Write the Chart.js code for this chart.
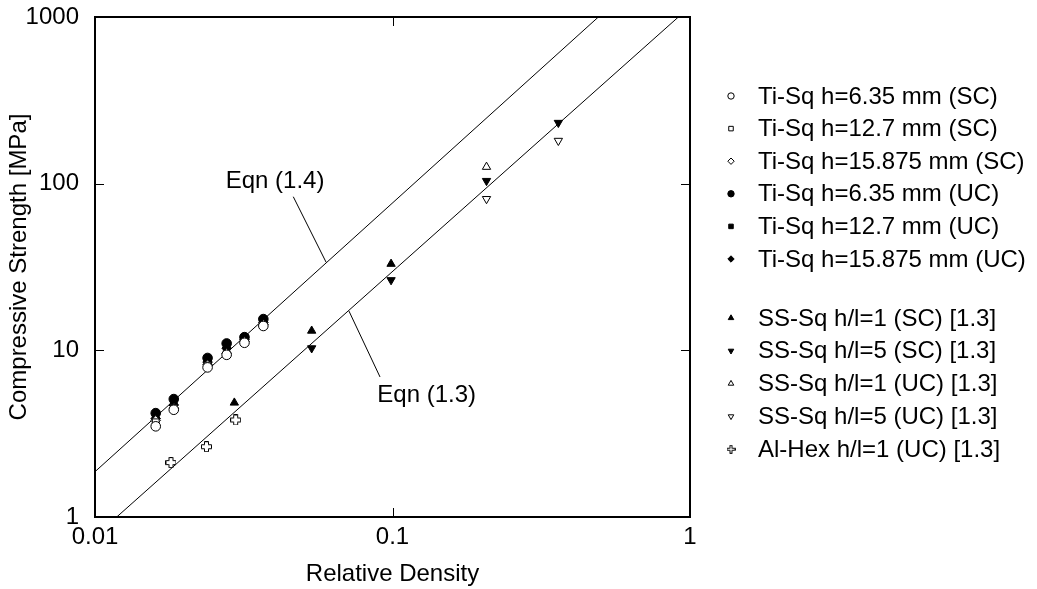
<!DOCTYPE html>
<html>
<head>
<meta charset="utf-8">
<script src="https://cdn.jsdelivr.net/npm/chart.js@4/dist/chart.umd.min.js"></script>
<style>
  html, body { margin: 0; padding: 0; background: #fff; }
  #wrap { width: 1037px; height: 589px; }
</style>
</head>
<body>
<div id="wrap"><canvas id="strength" width="1037" height="589"></canvas></div>
<script>
// Ti square honeycombs: shared relative densities, one array per cell height / constraint
const tiX = [0.016, 0.0184, 0.0239, 0.0277, 0.0318, 0.0368];
const tiSC635 = [3.5, 4.4, 7.9, 9.4, 11.1, 14.0];
const tiSC127 = [3.7, 4.5, 8.1, 9.5, 11.2, 14.1];
const tiSC15875 = [3.8, 4.5, 8.2, 9.6, 11.3, 14.3];
const tiUC635 = [4.2, 5.1, 9.0, 11.0, 12.0, 15.4];
const tiUC127 = [4.0, 4.8, 8.7, 10.6, 11.8, 15.0];
const tiUC15875 = [3.9, 4.7, 8.5, 10.3, 11.6, 14.7];

// stainless steel square honeycombs and Al hex [1.3]
const ssSC1X = [0.0294, 0.0535, 0.0989];
const ssSC1Y = [4.85, 13.1, 33];
const ssSC5X = [0.0535, 0.0989, 0.207, 0.361];
const ssSC5Y = [10.3, 26.4, 104, 232];
const ssUC1X = [0.207];
const ssUC1Y = [126];
const ssUC5X = [0.207, 0.361];
const ssUC5Y = [81, 181];
const alX = [0.018, 0.0237, 0.0297];
const alY = [2.12, 2.64, 3.82];

// model lines, end points on the frame
const eqn14X = [0.01, 0.492];
const eqn14Y = [1.87, 1000];
const eqn13X = [0.01183, 0.914];
const eqn13Y = [1, 1000];

const xTicks = [0.01, 0.1, 1];
const yTicks = [1, 10, 100, 1000];

const FONT = "'Liberation Sans', Arial, Helvetica, sans-serif";
const FS = 24;

const pts = (xs, ys) => xs.map((x, i) => ({ x, y: ys[i] }));

// outlined plus marker
function makePlus(size) {
    const c = document.createElement('canvas');
    c.width = size; c.height = size;
    const g = c.getContext('2d');
    const a = Math.round(size * 0.3), b = size - a;
    g.translate(0.5, 0.5);
    g.beginPath();
    g.moveTo(a, 0); g.lineTo(b - 1, 0); g.lineTo(b - 1, a); g.lineTo(size - 1, a);
    g.lineTo(size - 1, b - 1); g.lineTo(b - 1, b - 1); g.lineTo(b - 1, size - 1);
    g.lineTo(a, size - 1); g.lineTo(a, b - 1); g.lineTo(0, b - 1); g.lineTo(0, a); g.lineTo(a, a);
    g.closePath();
    g.fillStyle = '#fff'; g.fill();
    g.strokeStyle = '#000'; g.lineWidth = 1; g.stroke();
    return c;
}
const plusBig = makePlus(11);
const plusSmall = makePlus(9);

function marker(label, data, style, filled, rotation = 0, group = 1) {
    return {
        label, data, group,
        pointStyle: style,
        rotation,
        pointRadius: 4.8,
        pointHoverRadius: 4.8,
        borderWidth: 1,
        pointBorderColor: '#000',
        pointBackgroundColor: filled ? '#000' : '#fff',
        showLine: false,
    };
}

function modelLine(label, data) {
    return {
        label, data, isModel: true,
        showLine: true,
        borderColor: '#000',
        borderWidth: 1,
        pointRadius: 0,
        pointHoverRadius: 0,
    };
}

const datasets = [
    marker('Ti-Sq h=6.35 mm (SC)', pts(tiX, tiSC635), 'circle', false),
    marker('Ti-Sq h=12.7 mm (SC)', pts(tiX, tiSC127), 'rect', false),
    marker('Ti-Sq h=15.875 mm (SC)', pts(tiX, tiSC15875), 'rectRot', false),
    marker('Ti-Sq h=6.35 mm (UC)', pts(tiX, tiUC635), 'circle', true),
    marker('Ti-Sq h=12.7 mm (UC)', pts(tiX, tiUC127), 'rect', true),
    marker('Ti-Sq h=15.875 mm (UC)', pts(tiX, tiUC15875), 'rectRot', true),
    marker('SS-Sq h/l=1 (SC) [1.3]', pts(ssSC1X, ssSC1Y), 'triangle', true, 0, 2),
    marker('SS-Sq h/l=5 (SC) [1.3]', pts(ssSC5X, ssSC5Y), 'triangle', true, 180, 2),
    marker('SS-Sq h/l=1 (UC) [1.3]', pts(ssUC1X, ssUC1Y), 'triangle', false, 0, 2),
    marker('SS-Sq h/l=5 (UC) [1.3]', pts(ssUC5X, ssUC5Y), 'triangle', false, 180, 2),
    marker('Al-Hex h/l=1 (UC) [1.3]', pts(alX, alY), plusBig, false, 0, 2),
    modelLine('Eqn (1.4)', pts(eqn14X, eqn14Y)),
    modelLine('Eqn (1.3)', pts(eqn13X, eqn13Y)),
];

// frame, inward ticks, equation labels and the side legend
const framePlugin = {
    id: 'frame',
    afterDatasetsDraw(chart) {
        const { ctx, chartArea: a, scales: { x, y } } = chart;
        ctx.save();
        ctx.strokeStyle = '#000';
        ctx.lineWidth = 2;
        ctx.strokeRect(a.left, a.top, a.right - a.left, a.bottom - a.top);
        ctx.lineWidth = 1;
        ctx.beginPath();
        const tl = 9;
        yTicks.slice(1, -1).forEach(v => {
            const py = Math.round(y.getPixelForValue(v)) + 0.5;
            ctx.moveTo(a.left, py); ctx.lineTo(a.left + tl, py);
            ctx.moveTo(a.right, py); ctx.lineTo(a.right - tl, py);
        });
        xTicks.slice(1, -1).forEach(v => {
            const px = Math.round(x.getPixelForValue(v)) + 0.5;
            ctx.moveTo(px, a.bottom); ctx.lineTo(px, a.bottom - tl);
            ctx.moveTo(px, a.top); ctx.lineTo(px, a.top + tl);
        });
        ctx.stroke();

        // equation call-outs
        const notes = [
            { text: 'Eqn (1.4)', at: [0.0403, 103], from: [0.0464, 83.5], to: [0.0598, 33.8] },
            { text: 'Eqn (1.3)', at: [0.1303, 5.39], from: [0.0908, 6.92], to: [0.0714, 17.2] },
        ];
        ctx.font = `${FS}px ${FONT}`;
        ctx.fillStyle = '#000';
        ctx.textAlign = 'center';
        ctx.textBaseline = 'middle';
        notes.forEach(n => {
            ctx.fillText(n.text, x.getPixelForValue(n.at[0]), y.getPixelForValue(n.at[1]));
            ctx.beginPath();
            ctx.moveTo(x.getPixelForValue(n.from[0]), y.getPixelForValue(n.from[1]));
            ctx.lineTo(x.getPixelForValue(n.to[0]), y.getPixelForValue(n.to[1]));
            ctx.stroke();
        });

        // legend
        const mx = 731, tx = 758;
        const rows = { 1: { y0: 96, step: 32.6, i: 0 }, 2: { y0: 318, step: 32.8, i: 0 } };
        ctx.textAlign = 'left';
        chart.data.datasets.forEach(ds => {
            if (ds.isModel) return;
            const r = rows[ds.group];
            const ly = r.y0 + r.step * r.i++;
            const style = ds.pointStyle === plusBig ? plusSmall : ds.pointStyle;
            ctx.fillStyle = ds.pointBackgroundColor;
            ctx.strokeStyle = '#000';
            ctx.lineWidth = 1;
            Chart.helpers.drawPoint(ctx, { pointStyle: style, rotation: ds.rotation, radius: 3.2, borderWidth: 1 }, mx, ly);
            ctx.fillStyle = '#000';
            ctx.fillText(ds.label, tx, ly + 1);
        });
        ctx.restore();
    }
};

new Chart(document.getElementById('strength'), {
    type: 'scatter',
    data: { datasets },
    plugins: [framePlugin],
    options: {
        responsive: false,
        animation: false,
        layout: { padding: { top: 17, right: 347, left: 0, bottom: 0 } },
        plugins: { legend: { display: false }, tooltip: { enabled: false } },
        scales: {
            x: {
                type: 'logarithmic',
                min: 0.01, max: 1,
                afterBuildTicks: s => { s.ticks = xTicks.map(v => ({ value: v })); },
                afterFit: s => { s.height = 72; s.paddingLeft = 0; s.paddingRight = 0; },
                grid: { display: false, drawTicks: false },
                border: { display: false },
                ticks: {
                    color: '#000', font: { family: FONT, size: FS }, padding: 6,
                    maxRotation: 0, autoSkip: false,
                    callback: v => String(v),
                },
                title: {
                    display: true, text: 'Relative Density', color: '#000',
                    font: { family: FONT, size: FS }, padding: { top: 0, bottom: 0 },
                },
            },
            y: {
                type: 'logarithmic',
                min: 1, max: 1000,
                afterBuildTicks: s => { s.ticks = yTicks.map(v => ({ value: v })); },
                afterFit: s => { s.width = 95; s.paddingTop = 0; s.paddingBottom = 0; },
                grid: { display: false, drawTicks: false },
                border: { display: false },
                ticks: {
                    color: '#000', font: { family: FONT, size: FS }, padding: 16,
                    autoSkip: false,
                    callback: v => String(v),
                },
                title: {
                    display: true, text: 'Compressive Strength [MPa]', color: '#000',
                    font: { family: FONT, size: FS }, padding: { top: 5, bottom: 0 },
                },
            },
        },
    },
});
</script>
</body>
</html>
